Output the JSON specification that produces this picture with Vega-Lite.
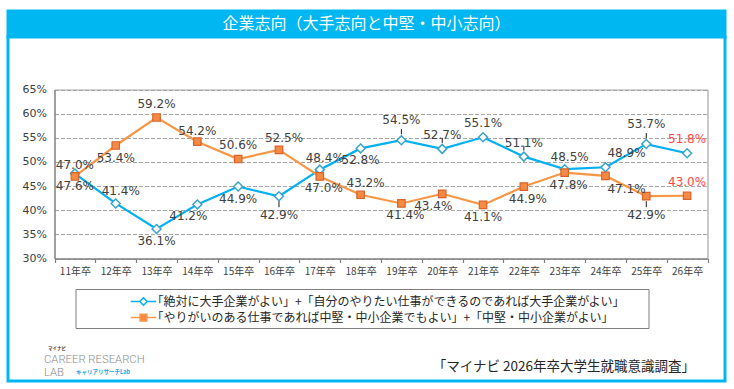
{
  "$schema": "https://vega.github.io/schema/vega-lite/v6.json",
  "background": "white",
  "padding": {"left": 6, "top": 9, "right": 0, "bottom": 0},
  "autosize": {"type": "pad"},
  "bounds": "flush",
  "spacing": 0,
  "config": {"view": {"stroke": null}, "font": "Noto Sans CJK JP"},
  "datasets": {
    "rates": [
      {"year": "11年卒", "series": "「絶対に大手企業がよい」+「自分のやりたい仕事ができるのであれば大手企業がよい」", "value": 0.476},
      {"year": "12年卒", "series": "「絶対に大手企業がよい」+「自分のやりたい仕事ができるのであれば大手企業がよい」", "value": 0.414},
      {"year": "13年卒", "series": "「絶対に大手企業がよい」+「自分のやりたい仕事ができるのであれば大手企業がよい」", "value": 0.361},
      {"year": "14年卒", "series": "「絶対に大手企業がよい」+「自分のやりたい仕事ができるのであれば大手企業がよい」", "value": 0.412},
      {"year": "15年卒", "series": "「絶対に大手企業がよい」+「自分のやりたい仕事ができるのであれば大手企業がよい」", "value": 0.449},
      {"year": "16年卒", "series": "「絶対に大手企業がよい」+「自分のやりたい仕事ができるのであれば大手企業がよい」", "value": 0.429},
      {"year": "17年卒", "series": "「絶対に大手企業がよい」+「自分のやりたい仕事ができるのであれば大手企業がよい」", "value": 0.484},
      {"year": "18年卒", "series": "「絶対に大手企業がよい」+「自分のやりたい仕事ができるのであれば大手企業がよい」", "value": 0.528},
      {"year": "19年卒", "series": "「絶対に大手企業がよい」+「自分のやりたい仕事ができるのであれば大手企業がよい」", "value": 0.545},
      {"year": "20年卒", "series": "「絶対に大手企業がよい」+「自分のやりたい仕事ができるのであれば大手企業がよい」", "value": 0.527},
      {"year": "21年卒", "series": "「絶対に大手企業がよい」+「自分のやりたい仕事ができるのであれば大手企業がよい」", "value": 0.551},
      {"year": "22年卒", "series": "「絶対に大手企業がよい」+「自分のやりたい仕事ができるのであれば大手企業がよい」", "value": 0.511},
      {"year": "23年卒", "series": "「絶対に大手企業がよい」+「自分のやりたい仕事ができるのであれば大手企業がよい」", "value": 0.485},
      {"year": "24年卒", "series": "「絶対に大手企業がよい」+「自分のやりたい仕事ができるのであれば大手企業がよい」", "value": 0.489},
      {"year": "25年卒", "series": "「絶対に大手企業がよい」+「自分のやりたい仕事ができるのであれば大手企業がよい」", "value": 0.537},
      {"year": "26年卒", "series": "「絶対に大手企業がよい」+「自分のやりたい仕事ができるのであれば大手企業がよい」", "value": 0.518},
      {"year": "11年卒", "series": "「やりがいのある仕事であれば中堅・中小企業でもよい」+「中堅・中小企業がよい」", "value": 0.470},
      {"year": "12年卒", "series": "「やりがいのある仕事であれば中堅・中小企業でもよい」+「中堅・中小企業がよい」", "value": 0.534},
      {"year": "13年卒", "series": "「やりがいのある仕事であれば中堅・中小企業でもよい」+「中堅・中小企業がよい」", "value": 0.592},
      {"year": "14年卒", "series": "「やりがいのある仕事であれば中堅・中小企業でもよい」+「中堅・中小企業がよい」", "value": 0.542},
      {"year": "15年卒", "series": "「やりがいのある仕事であれば中堅・中小企業でもよい」+「中堅・中小企業がよい」", "value": 0.506},
      {"year": "16年卒", "series": "「やりがいのある仕事であれば中堅・中小企業でもよい」+「中堅・中小企業がよい」", "value": 0.525},
      {"year": "17年卒", "series": "「やりがいのある仕事であれば中堅・中小企業でもよい」+「中堅・中小企業がよい」", "value": 0.470},
      {"year": "18年卒", "series": "「やりがいのある仕事であれば中堅・中小企業でもよい」+「中堅・中小企業がよい」", "value": 0.432},
      {"year": "19年卒", "series": "「やりがいのある仕事であれば中堅・中小企業でもよい」+「中堅・中小企業がよい」", "value": 0.414},
      {"year": "20年卒", "series": "「やりがいのある仕事であれば中堅・中小企業でもよい」+「中堅・中小企業がよい」", "value": 0.434},
      {"year": "21年卒", "series": "「やりがいのある仕事であれば中堅・中小企業でもよい」+「中堅・中小企業がよい」", "value": 0.411},
      {"year": "22年卒", "series": "「やりがいのある仕事であれば中堅・中小企業でもよい」+「中堅・中小企業がよい」", "value": 0.449},
      {"year": "23年卒", "series": "「やりがいのある仕事であれば中堅・中小企業でもよい」+「中堅・中小企業がよい」", "value": 0.478},
      {"year": "24年卒", "series": "「やりがいのある仕事であれば中堅・中小企業でもよい」+「中堅・中小企業がよい」", "value": 0.471},
      {"year": "25年卒", "series": "「やりがいのある仕事であれば中堅・中小企業でもよい」+「中堅・中小企業がよい」", "value": 0.429},
      {"year": "26年卒", "series": "「やりがいのある仕事であれば中堅・中小企業でもよい」+「中堅・中小企業がよい」", "value": 0.430}
    ]
  },
  "vconcat": [
    {
      "width": 717,
      "height": 26,
      "view": {"fill": "#00B7F1", "stroke": "#00B7F1", "strokeWidth": 3},
      "data": {"values": [{"t": "企業志向（大手志向と中堅・中小志向）"}]},
      "mark": {"type": "text", "color": "#FFFFFF", "font": "Noto Sans CJK JP", "fontSize": 16, "baseline": "middle", "align": "center"},
      "encoding": {"text": {"field": "t"}}
    },
    {
      "width": 717,
      "height": 344,
      "view": {"fill": "#FFFFFF", "stroke": "#00B7F1", "strokeWidth": 3},
      "data": {"name": "rates"},
      "resolve": {"axis": {"x": "independent", "y": "independent"}},
      "layer": [
        {
          "mark": {"type": "line", "strokeWidth": 2.2},
          "encoding": {
            "x": {
              "field": "year", "type": "ordinal", "bandPosition": 0.5,
              "scale": {"type": "band", "domain": ["11年卒","12年卒","13年卒","14年卒","15年卒","16年卒","17年卒","18年卒","19年卒","20年卒","21年卒","22年卒","23年卒","24年卒","25年卒","26年卒"], "range": [46.5, 699.5], "paddingInner": 0, "paddingOuter": 0},
              "axis": {
                "orient": "bottom", "offset": -122.5, "labelAngle": 0,
                "labelFont": "Noto Sans CJK JP", "labelFontSize": 10, "labelColor": "#404040", "labelPadding": 4,
                "tickBand": "extent", "tickSize": 4, "tickColor": "#7F7F7F", "tickWidth": 1.2,
                "domainColor": "#7F7F7F", "domainWidth": 1.5, "grid": false,
                "title": "「マイナビ 2026年卒大学生就職意識調査」",
                "titleX": 686.5, "titleY": 108, "titleAlign": "right", "titleBaseline": "middle",
                "titleFont": "Noto Sans CJK JP", "titleFontSize": 13.5, "titleFontWeight": "normal", "titleColor": "#262626"
              }
            },
            "y": {
              "field": "value", "type": "quantitative",
              "scale": {"domain": [0.30, 0.65], "range": [221.5, 52.5], "nice": false, "zero": false},
              "axis": {
                "orient": "left", "offset": -46.5, "values": [0.30,0.35,0.40,0.45,0.50,0.55,0.60,0.65], "format": ".0%",
                "labelFont": "DejaVu Sans", "labelFontSize": 11, "labelColor": "#404040", "labelPadding": 8,
                "ticks": false, "domainColor": "#7F7F7F", "domainWidth": 1.5,
                "grid": true, "gridColor": "#A6A6A6", "gridDash": [4, 2], "gridWidth": 1.2,
                "title": ["CAREER RESEARCH", "LAB"], "titleAngle": 0, "titleX": -11, "titleY": 316,
                "titleAlign": "left", "titleBaseline": "top", "titleFont": "Roboto", "titleFontSize": 11.3,
                "titleFontWeight": 300, "titleColor": "#8C8C8C", "titleLineHeight": 13
              }
            },
            "color": {
              "field": "series", "type": "nominal",
              "scale": {"domain": ["「絶対に大手企業がよい」+「自分のやりたい仕事ができるのであれば大手企業がよい」", "「やりがいのある仕事であれば中堅・中小企業でもよい」+「中堅・中小企業がよい」"], "range": ["#00B0F0", "#F79646"]},
              "legend": {
                "orient": "none", "legendX": 67.5, "legendY": 278, "title": null,
                "strokeColor": "#7F7F7F", "padding": 4, "rowPadding": 0,
                "symbolSize": 225, "symbolStrokeWidth": 1.5, "symbolOffset": 55.5, "labelOffset": -0.5,
                "labelFont": "Noto Sans CJK JP", "labelFontSize": 12, "labelColor": "#262626", "labelLimit": 0,
                "labelExpr": "datum.label + '\u2800\u2800'",
                "encode": {
                  "symbols": {
                    "update": {
                      "shape": {"signal": "indexof(datum.value, '絶対') >= 0 ? 'M-1.7,0H-0.5M0.5,0H1.7M0,-0.5L0.5,0L0,0.5L-0.5,0Z' : 'M-1.7,0H-0.45M0.45,0H1.7M-0.45,-0.45H0.45V0.45H-0.45Z'"},
                      "fill": {"signal": "indexof(datum.value, '絶対') >= 0 ? '#FFFFFF' : '#F58A45'"}
                    }
                  }
                }
              }
            }
          }
        },
        {
          "transform": [{"filter": "indexof(datum.series, '絶対') >= 0"}],
          "mark": {"type": "point", "shape": "diamond", "size": 80, "filled": true, "fill": "#FFFFFF", "stroke": "#3BA3C9", "strokeWidth": 1.5, "opacity": 1},
          "encoding": {
            "x": {"field": "year", "type": "ordinal", "bandPosition": 0.5,
              "axis": {"orient": "top", "offset": -52.5, "labels": false, "ticks": false, "grid": false, "domainColor": "#A6A6A6", "domainWidth": 1.2,
                "title": "マイナビ", "titleX": 39.5, "titleY": 259, "titleAlign": "left", "titleBaseline": "middle",
                "titleFont": "Noto Sans CJK JP", "titleFontSize": 4.5, "titleFontWeight": "bold", "titleColor": "#333333"}},
            "y": {"field": "value", "type": "quantitative",
              "axis": {"orient": "right", "offset": -17.5, "labels": false, "ticks": false, "grid": false, "domainColor": "#A6A6A6", "domainWidth": 1.2,
                "title": "キャリアリサーチLab", "titleAngle": 0, "titleX": -632, "titleY": 334, "titleAlign": "left", "titleBaseline": "middle",
                "titleFont": "Noto Sans CJK JP", "titleFontSize": 5.5, "titleFontWeight": "bold", "titleColor": "#1AA3E0"}}
          }
        },
        {
          "transform": [{"filter": "indexof(datum.series, 'やりがい') >= 0"}],
          "mark": {"type": "point", "shape": "square", "size": 56, "filled": true, "fill": "#F58A45", "stroke": "#D9622B", "strokeWidth": 1.2, "opacity": 1},
          "encoding": {
            "x": {"field": "year", "type": "ordinal", "bandPosition": 0.5, "axis": null},
            "y": {"field": "value", "type": "quantitative", "axis": null}
          }
        },
        {
          "transform": [{"filter": "indexof(datum.series,'絶対')>=0 && indexof(['19年卒','20年卒','22年卒','25年卒'], datum.year)>=0"}],
          "mark": {"type": "rule", "color": "#1A1A1A", "strokeWidth": 1, "yOffset": -6, "y2Offset": -11},
          "encoding": {
            "x": {"field": "year", "type": "ordinal", "bandPosition": 0.5, "axis": null},
            "y": {"field": "value", "type": "quantitative", "axis": null},
            "y2": {"field": "value"}
          }
        },
        {
          "transform": [{"filter": "(indexof(datum.series,'絶対')>=0 && datum.year == '16年卒') || (indexof(datum.series,'やりがい')>=0 && datum.year == '25年卒')"}],
          "mark": {"type": "rule", "color": "#1A1A1A", "strokeWidth": 1, "yOffset": 5, "y2Offset": 11},
          "encoding": {
            "x": {"field": "year", "type": "ordinal", "bandPosition": 0.5, "axis": null},
            "y": {"field": "value", "type": "quantitative", "axis": null},
            "y2": {"field": "value"}
          }
        },
        {
          "transform": [{"filter": "(indexof(datum.series,'絶対')>=0 && indexof(['20年卒','21年卒','22年卒','26年卒'], datum.year)>=0) || (indexof(datum.series,'やりがい')>=0 && indexof(['13年卒','15年卒','26年卒'], datum.year)>=0)"}],
          "mark": {"type": "text", "dx": 0, "dy": -14, "font": "DejaVu Sans", "fontSize": 12, "baseline": "middle"},
          "encoding": {
            "x": {"field": "year", "type": "ordinal", "bandPosition": 0.5, "axis": null},
            "y": {"field": "value", "type": "quantitative", "axis": null},
            "text": {"field": "value", "type": "quantitative", "format": ".1%"},
            "color": {"condition": {"test": "datum.year == '26年卒'", "value": "#FF4646"}, "value": "#404040"}
          }
        },
        {
          "transform": [{"filter": "indexof(datum.series,'やりがい')>=0 && indexof(['11年卒','14年卒'], datum.year)>=0"}],
          "mark": {"type": "text", "dx": 0, "dy": -11, "font": "DejaVu Sans", "fontSize": 12, "baseline": "middle"},
          "encoding": {
            "x": {"field": "year", "type": "ordinal", "bandPosition": 0.5, "axis": null},
            "y": {"field": "value", "type": "quantitative", "axis": null},
            "text": {"field": "value", "type": "quantitative", "format": ".1%"},
            "color": {"value": "#404040"}
          }
        },
        {
          "transform": [{"filter": "(indexof(datum.series,'絶対')>=0 && indexof(['12年卒','17年卒','23年卒'], datum.year)>=0) || (indexof(datum.series,'やりがい')>=0 && indexof(['16年卒','18年卒'], datum.year)>=0)"}],
          "mark": {"type": "text", "dx": 5, "dy": -12, "font": "DejaVu Sans", "fontSize": 12, "baseline": "middle"},
          "encoding": {
            "x": {"field": "year", "type": "ordinal", "bandPosition": 0.5, "axis": null},
            "y": {"field": "value", "type": "quantitative", "axis": null},
            "text": {"field": "value", "type": "quantitative", "format": ".1%"},
            "color": {"value": "#404040"}
          }
        },
        {
          "transform": [{"filter": "(indexof(datum.series,'絶対')>=0 && indexof(['11年卒','13年卒','15年卒','18年卒'], datum.year)>=0) || (indexof(datum.series,'やりがい')>=0 && indexof(['12年卒','21年卒'], datum.year)>=0)"}],
          "mark": {"type": "text", "dx": 0, "dy": 12, "font": "DejaVu Sans", "fontSize": 12, "baseline": "middle"},
          "encoding": {
            "x": {"field": "year", "type": "ordinal", "bandPosition": 0.5, "axis": null},
            "y": {"field": "value", "type": "quantitative", "axis": null},
            "text": {"field": "value", "type": "quantitative", "format": ".1%"},
            "color": {"value": "#404040"}
          }
        },
        {
          "transform": [{"filter": "indexof(datum.series,'やりがい')>=0 && indexof(['17年卒','19年卒','22年卒','23年卒'], datum.year)>=0"}],
          "mark": {"type": "text", "dx": 4, "dy": 12, "font": "DejaVu Sans", "fontSize": 12, "baseline": "middle"},
          "encoding": {
            "x": {"field": "year", "type": "ordinal", "bandPosition": 0.5, "axis": null},
            "y": {"field": "value", "type": "quantitative", "axis": null},
            "text": {"field": "value", "type": "quantitative", "format": ".1%"},
            "color": {"value": "#404040"}
          }
        },
        {
          "transform": [{"filter": "(indexof(datum.series,'絶対')>=0 && datum.year == '14年卒') || (indexof(datum.series,'やりがい')>=0 && datum.year == '20年卒')"}],
          "mark": {"type": "text", "dx": -9, "dy": 12, "font": "DejaVu Sans", "fontSize": 12, "baseline": "middle"},
          "encoding": {
            "x": {"field": "year", "type": "ordinal", "bandPosition": 0.5, "axis": null},
            "y": {"field": "value", "type": "quantitative", "axis": null},
            "text": {"field": "value", "type": "quantitative", "format": ".1%"},
            "color": {"value": "#404040"}
          }
        },
        {
          "transform": [{"filter": "indexof(datum.series,'絶対')>=0 && datum.year == '24年卒'"}],
          "mark": {"type": "text", "dx": 21, "dy": -14, "font": "DejaVu Sans", "fontSize": 12, "baseline": "middle"},
          "encoding": {
            "x": {"field": "year", "type": "ordinal", "bandPosition": 0.5, "axis": null},
            "y": {"field": "value", "type": "quantitative", "axis": null},
            "text": {"field": "value", "type": "quantitative", "format": ".1%"},
            "color": {"value": "#404040"}
          }
        },
        {
          "transform": [{"filter": "indexof(datum.series,'やりがい')>=0 && datum.year == '24年卒'"}],
          "mark": {"type": "text", "dx": 21, "dy": 13, "font": "DejaVu Sans", "fontSize": 12, "baseline": "middle"},
          "encoding": {
            "x": {"field": "year", "type": "ordinal", "bandPosition": 0.5, "axis": null},
            "y": {"field": "value", "type": "quantitative", "axis": null},
            "text": {"field": "value", "type": "quantitative", "format": ".1%"},
            "color": {"value": "#404040"}
          }
        },
        {
          "transform": [{"filter": "indexof(datum.series,'絶対')>=0 && indexof(['19年卒','25年卒'], datum.year)>=0"}],
          "mark": {"type": "text", "dx": 0, "dy": -20, "font": "DejaVu Sans", "fontSize": 12, "baseline": "middle"},
          "encoding": {
            "x": {"field": "year", "type": "ordinal", "bandPosition": 0.5, "axis": null},
            "y": {"field": "value", "type": "quantitative", "axis": null},
            "text": {"field": "value", "type": "quantitative", "format": ".1%"},
            "color": {"value": "#404040"}
          }
        },
        {
          "transform": [{"filter": "(indexof(datum.series,'絶対')>=0 && datum.year == '16年卒') || (indexof(datum.series,'やりがい')>=0 && datum.year == '25年卒')"}],
          "mark": {"type": "text", "dx": 0, "dy": 19, "font": "DejaVu Sans", "fontSize": 12, "baseline": "middle"},
          "encoding": {
            "x": {"field": "year", "type": "ordinal", "bandPosition": 0.5, "axis": null},
            "y": {"field": "value", "type": "quantitative", "axis": null},
            "text": {"field": "value", "type": "quantitative", "format": ".1%"},
            "color": {"value": "#404040"}
          }
        }
      ]
    }
  ]
}
